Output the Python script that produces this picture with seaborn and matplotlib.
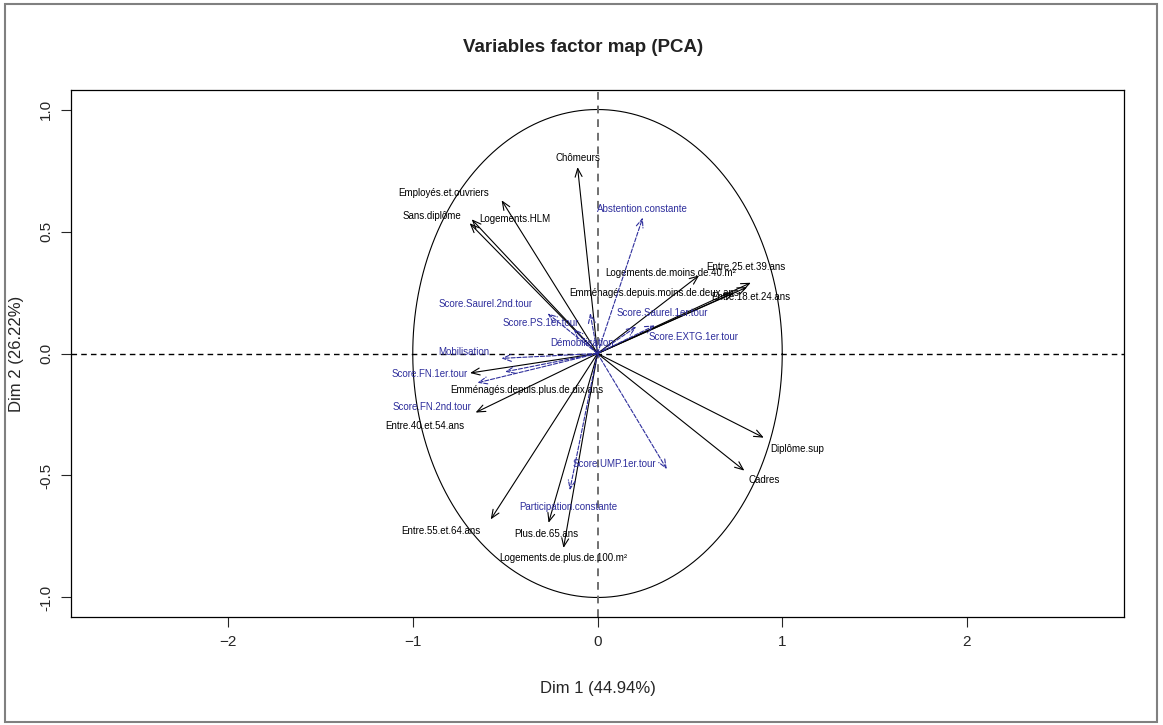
import numpy as np
import pandas as pd
import matplotlib
matplotlib.use("Agg")
import matplotlib.pyplot as plt
from matplotlib.patches import Rectangle
import seaborn as sns

# variable coordinates (Dim 1, Dim 2)
names = ["Chômeurs", "Employés.et.ouvriers", "Sans.diplôme", "Logements.HLM",
         "Logements.de.moins.de.40.m²", "Emménagés.depuis.moins.de.deux.ans",
         "Entre.25.et.39.ans", "Entre.18.et.24.ans", "Diplôme.sup", "Cadres",
         "Plus.de.65.ans", "Logements.de.plus.de.100.m²", "Entre.55.et.64.ans",
         "Entre.40.et.54.ans", "Emménagés.depuis.plus.de.dix.ans",
         "Abstention.constante", "Score.Saurel.2nd.tour", "Score.PS.1er.tour",
         "Score.Saurel.1er.tour", "Score.EXTG.1er.tour", "Démobilisation",
         "Mobilisation", "Score.FN.1er.tour", "Score.FN.2nd.tour",
         "Score.UMP.1er.tour", "Participation.constante"]
dim1 = [-0.108, -0.681, -0.692, -0.519, 0.55, 0.74, 0.83, 0.81, 0.90, 0.795,
        -0.265, -0.184, -0.578, -0.66, -0.69,
        0.245, -0.27, -0.13, 0.21, 0.31, -0.04, -0.52, -0.65, -0.50, 0.375, -0.15]
dim2 = [0.764, 0.55, 0.534, 0.628, 0.32, 0.25, 0.29, 0.272, -0.345, -0.48,
        -0.694, -0.797, -0.68, -0.242, -0.08,
        0.557, 0.164, 0.10, 0.11, 0.115, 0.165, -0.02, -0.12, -0.075, -0.474, -0.56]
supp = [False] * 15 + [True] * 11

# label anchor points (after R's autoLab placement)
lab_x = [-0.108, -0.832, -0.897, -0.449, 0.395, 0.308, 0.805, 0.832, 1.081, 0.90,
         -0.276, -0.184, -0.849, -0.935, -0.384,
         0.243, -0.605, -0.308, 0.351, 0.519, -0.086, -0.722, -0.908, -0.897, 0.089, -0.157]
lab_y = [0.80, 0.657, 0.563, 0.55, 0.328, 0.246, 0.353, 0.23, -0.39, -0.52,
         -0.739, -0.838, -0.727, -0.296, -0.148,
         0.591, 0.201, 0.123, 0.164, 0.066, 0.045, 0.008, -0.086, -0.218, -0.452, -0.628]

df = pd.DataFrame({"name": names, "x": dim1, "y": dim2, "supp": supp,
                   "lx": lab_x, "ly": lab_y})

sns.set_style("white")
plt.rcParams["font.family"] = ["Liberation Sans", "DejaVu Sans"]

fig = plt.figure(figsize=(11.63, 7.25), dpi=100)
ax = fig.add_axes([71 / 1163, 1 - 617 / 725, (1124 - 71) / 1163, (617 - 90) / 725])

blue = "#2e2e9c"

# correlation circle
t = np.linspace(0, 2 * np.pi, 400)
circle = pd.DataFrame({"cx": np.cos(t), "cy": np.sin(t)})
sns.lineplot(data=circle, x="cx", y="cy", sort=False, estimator=None,
             color="black", lw=0.8, ax=ax)

ax.axhline(0, color="black", ls=(0, (4, 3)), lw=1.0)
ax.axvline(0, color="#707070", ls=(0, (4, 3)), lw=1.4)

for _, r in df.iterrows():
    col = blue if r.supp else "black"
    ls = "--" if r.supp else "-"
    ax.annotate("", xy=(r.x, r.y), xytext=(0, 0),
                arrowprops=dict(arrowstyle="->,head_length=0.6,head_width=0.25",
                                color=col, lw=0.8, ls=ls, shrinkA=0, shrinkB=0))
    ax.text(r.lx, r.ly, r["name"], color=col, fontsize=7.0,
            ha="center", va="center")

ax.set_xlim(-2.85, 2.85)
ax.set_ylim(-1.08, 1.08)
ax.set_xticks([-2, -1, 0, 1, 2])
ax.set_yticks([-1.0, -0.5, 0.0, 0.5, 1.0])
ax.set_yticklabels(["-1.0", "-0.5", "0.0", "0.5", "1.0"], rotation=90, va="center")
ax.tick_params(direction="out", length=7, width=0.8, labelsize=11, pad=6, left=True, bottom=True)
for s in ax.spines.values():
    s.set_color("black")
    s.set_linewidth(0.9)
ax.set_xlabel("Dim 1 (44.94%)", fontsize=12, labelpad=23)
ax.set_ylabel("Dim 2 (26.22%)", fontsize=12, labelpad=11)
fig.text(583 / 1163, 1 - 47 / 725, "Variables factor map (PCA)", fontsize=13.5,
         fontweight="bold", ha="center", va="center", color="#222222")

fig.patches.append(Rectangle((5 / 1163, 3 / 725), 1152 / 1163, 718 / 725,
                             transform=fig.transFigure, fill=False,
                             edgecolor="#808080", lw=1.5))

fig.savefig("out.png", dpi=100)
